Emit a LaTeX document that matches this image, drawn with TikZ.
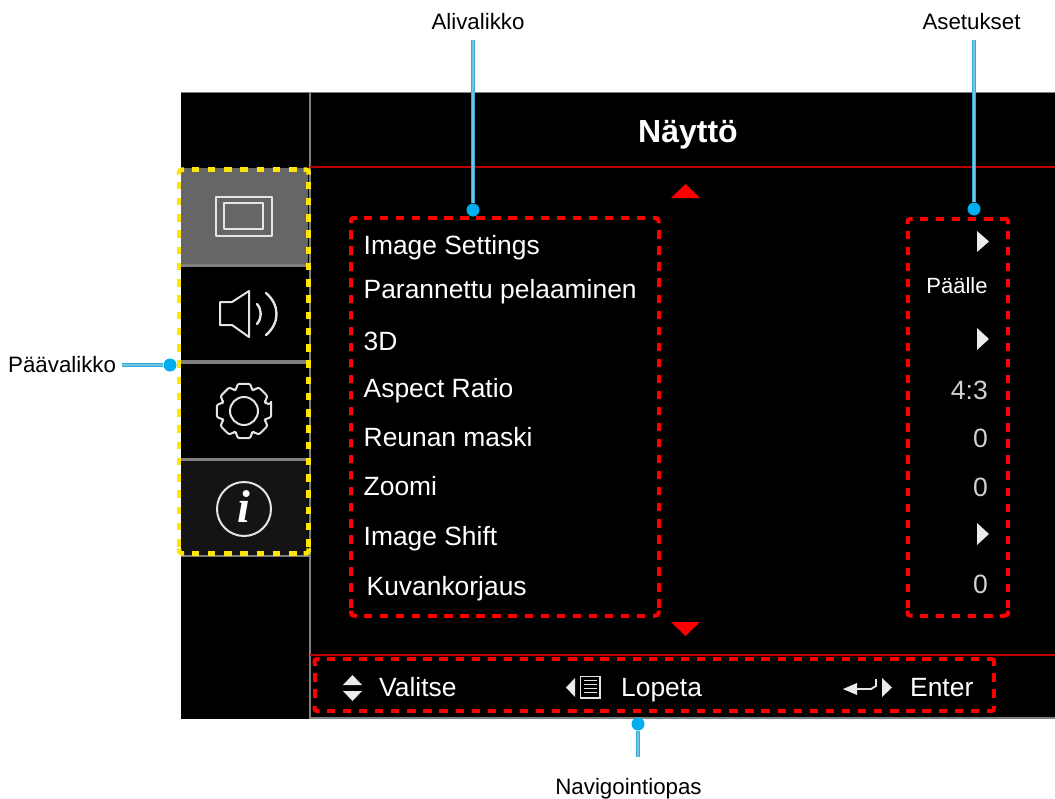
\documentclass[tikz,border=0pt]{standalone}
\usepackage{fontspec}
\setmainfont{Liberation Sans}
\newfontfamily\serifi{Liberation Serif}
\definecolor{cyanpt}{HTML}{00AEEF}
\definecolor{cyanln}{HTML}{2FAEDD}
\definecolor{cyanin}{HTML}{74C2DC}
\definecolor{sepgray}{HTML}{7F7F7F}
\definecolor{itemgray}{HTML}{666666}
\definecolor{darkitem}{HTML}{141414}
\definecolor{redrule}{HTML}{C00000}
\definecolor{dashyellow}{HTML}{FFE600}
\definecolor{iconline}{HTML}{E4E4E4}
\newcommand{\fs}[1]{\fontsize{#1}{#1}\selectfont}
\tikzset{
  x=1pt,y=-1pt,
  menutext/.style={anchor=base west,inner sep=0pt,text=white,font=\fs{26.4}},
  valtext/.style={anchor=base east,inner sep=0pt,text=white!82!black,font=\fs{26.5}},
  navtext/.style={anchor=base west,inner sep=0pt,text=white,font=\fs{26.4}},
  calltext/.style={anchor=base,inner sep=0pt,text=black,font=\fs{22.3}},
  reddash/.style={draw=red,line width=4pt},
  yellowdash/.style={draw=dashyellow,line width=4.5pt},
  calldot/.style={circle,fill=cyanpt,inner sep=0pt,minimum size=13pt},
  callline/.style={draw=cyanln,line width=3.6pt,postaction={draw=cyanin,line width=1.2pt}},
  icon/.style={draw=iconline,line width=2pt,line join=round},
  tri/.style={fill=white!92!black},
  redtri/.style={fill=red},
}
% style, x1, y1, x2, y2, first dash offset along x, along y, period, on length
\newcommand{\dashedframe}[9]{%
  \pgfmathsetmacro{\phx}{#8-(#6-5)}%
  \pgfmathsetmacro{\phy}{#8-(#7-5)}%
  \pgfmathsetmacro{\offl}{#8-#9}%
  \pgfmathsetmacro{\xa}{#2+5}\pgfmathsetmacro{\xb}{#4-5}%
  \pgfmathsetmacro{\ya}{#3+5}\pgfmathsetmacro{\yb}{#5-5}%
  \begin{scope}[#1]
    \foreach \yy in {#3,#5}{\draw[dash pattern=on #9pt off \offl pt,dash phase=\phx pt] (\xa,\yy) -- (\xb,\yy);}
    \foreach \xx in {#2,#4}{\draw[dash pattern=on #9pt off \offl pt,dash phase=\phy pt] (\xx,\ya) -- (\xx,\yb);}
    \draw[rounded corners=2.5pt] (#2,\ya) -- (#2,#3) -- (\xa,#3);
    \draw[rounded corners=2.5pt] (\xb,#3) -- (#4,#3) -- (#4,\ya);
    \draw[rounded corners=2.5pt] (#4,\yb) -- (#4,#5) -- (\xb,#5);
    \draw[rounded corners=2.5pt] (\xa,#5) -- (#2,#5) -- (#2,\yb);
  \end{scope}%
}
\begin{document}
\begin{tikzpicture}
\useasboundingbox (0,0) rectangle (1055,798);
\fill[white] (0,0) rectangle (1055,798);
% panel
\fill[black] (181,92) rectangle (1055,719);
\fill[itemgray] (181,168) rectangle (308,264);
\fill[darkitem] (181,461) rectangle (308,555);
\draw[sepgray,line width=1.6pt] (181,92.5) -- (1055,92.5);
\draw[sepgray,line width=2pt] (309.5,92) -- (309.5,719);
\draw[sepgray,line width=2pt] (310,718) -- (1055,718);
\draw[sepgray,line width=3.5pt] (181,265.5) -- (309,265.5);
\draw[sepgray,line width=3.5pt] (181,362) -- (309,362);
\draw[sepgray,line width=3.5pt] (181,459.5) -- (309,459.5);
\draw[sepgray,line width=2.5pt] (181,556) -- (309,556);
\draw[redrule,line width=1.8pt] (310,167) -- (1055,167);
\draw[redrule,line width=1.8pt] (310,655) -- (1055,655);
% title
\node[anchor=base,inner sep=0pt,text=white,font=\fs{32}\bfseries] (title) at (688,142) {Näyttö};
% icons
\draw[icon] (216,197) rectangle (272,236);
\draw[icon] (224,203) rectangle (263,229);
\draw[icon] (220,302) -- (232,302) -- (249,291) -- (249,337) -- (232,325) -- (220,325) -- cycle;
\draw[icon,line cap=round,line width=2.4pt] (257,304) .. controls (262,310) and (262,318) .. (257,324);
\draw[icon,line cap=round,line width=2.4pt] (266,293) .. controls (280,305) and (280,323) .. (266,335);
\begin{scope}[shift={(244,411)}]
\draw[icon,rounded corners=2.5pt] (-14:28)
  \foreach \a in {0,45,...,315}{ -- (\a-14:28) -- (\a+14:28) -- (\a+19:23) -- (\a+26:23)} -- cycle;
\draw[icon] (0,0) circle (14);
\end{scope}
\draw[icon] (244,509) circle (27);
\node[inner sep=0pt,text=white,font=\serifi\fs{46}\bfseries\itshape] (infoi) at (244,507) {i};
% yellow
\dashedframe{yellowdash}{179}{169.7}{308.7}{553.3}{12.7}{12}{16.25}{7.5}
% arrows
\fill[redtri] (685.5,184) -- (700,198) -- (671,198) -- cycle;
\fill[redtri] (685.5,636) -- (700,622) -- (671,622) -- cycle;
% menu
\node[menutext] (m1) at (363.5,254) {Image Settings};
\node[menutext] (m2) at (363.5,298) {Parannettu pelaaminen};
\node[menutext] (m3) at (363.5,350) {3D};
\node[menutext] (m4) at (363.5,397) {Aspect Ratio};
\node[menutext] (m5) at (363.5,446) {Reunan maski};
\node[menutext] (m6) at (363.5,495) {Zoomi};
\node[menutext] (m7) at (363.5,545) {Image Shift};
\node[menutext] (m8) at (366.5,595) {Kuvankorjaus};
% values
\fill[tri] (977,231) -- (989,241.5) -- (977,252) -- cycle;
\fill[tri] (977,328) -- (989,339) -- (977,350) -- cycle;
\fill[tri] (977,523) -- (989,534) -- (977,545) -- cycle;
\node[anchor=base,inner sep=0pt,text=white,font=\fs{22}] (v2) at (957,293) {Päälle};
\node[valtext] (v4) at (988,399) {4:3};
\node[valtext] (v5) at (988,447) {0};
\node[valtext] (v6) at (988,496) {0};
\node[valtext] (v8) at (988,593.5) {0};
% red boxes
\dashedframe{reddash}{351}{218}{658.5}{615.5}{13}{12.3}{16.05}{8.3}
\dashedframe{reddash}{907.5}{219}{1008}{615.5}{12.5}{11.7}{16.05}{8.3}
\dashedframe{reddash}{314.5}{659}{994}{711}{12.2}{14.3}{16.1}{8.3}
% nav
\fill[tri] (352.5,675) -- (362,685) -- (343,685) -- cycle;
\fill[tri] (352.5,701) -- (362,691) -- (343,691) -- cycle;
\node[navtext] (n1) at (379,696) {Valitse};
\fill[tri] (566,687.5) -- (575,678) -- (575,697) -- cycle;
\draw[iconline,line width=1.3pt] (580.5,676.5) rectangle (600,698);
\foreach \yy in {680.5,684.5,688.5,692.5}{\draw[iconline,line width=1.5pt] (584,\yy) -- (597,\yy);}
\node[navtext] (n2) at (621,696) {Lopeta};
\fill[tri] (843,689) -- (857,683) -- (857,695) -- cycle;
\draw[iconline,line width=1.8pt] (855,689) -- (871,689) -- (876,686) -- (876,679);
\fill[tri] (882,678) -- (892,687.5) -- (882,697) -- cycle;
\node[navtext] (n3) at (910,696) {Enter};
% callouts
\node[calltext] (lsub) at (478,29) {Alivalikko};
\node[calltext] (lset) at (971.5,29) {Asetukset};
\node[calltext,anchor=base west] (lmain) at (8,372) {Päävalikko};
\node[calltext] (lnav) at (628.5,794) {Navigointiopas};
\coordinate (esub) at (473,40);
\coordinate (eset) at (974,40);
\coordinate (emain) at (122,365);
\coordinate (enav) at (638,757);
\node[calldot] (dsub) at (473,210) {};
\node[calldot] (dset) at (974,209) {};
\node[calldot] (dmain) at (170,365) {};
\node[calldot] (dnav) at (638,724) {};
\draw[callline] (dsub) -- (esub);
\draw[callline] (dset) -- (eset);
\draw[callline] (dmain) -- (emain);
\draw[callline] (dnav) -- (enav);
\end{tikzpicture}
\end{document}
